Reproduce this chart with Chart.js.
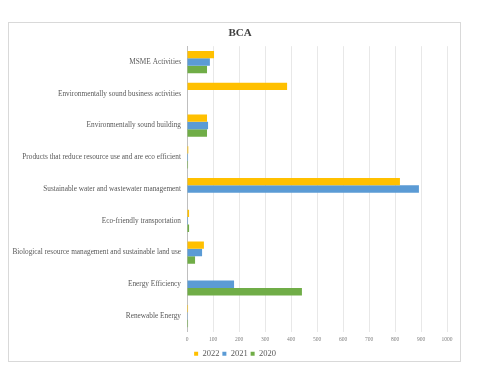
<!DOCTYPE html>
<html><head><meta charset="utf-8">
<script src="https://cdn.jsdelivr.net/npm/chart.js@4/dist/chart.umd.min.js"></script>
<style>html,body{margin:0;padding:0;background:#fff}#wrap{width:480px;height:371px;position:relative}</style>
</head><body><div id="wrap"><canvas id="c" width="480" height="371"></canvas></div>
<script>
const categories = [
  "MSME Activities",
  "Environmentally sound business activities",
  "Environmentally sound building",
  "Products that reduce resource use and are eco efficient",
  "Sustainable water and wastewater management",
  "Eco-friendly transportation",
  "Biological resource management and sustainable land use",
  "Energy Efficiency",
  "Renewable Energy"
];
const values2022 = [104, 385, 77, 5, 819, 8, 65, 0, 4];
const values2021 = [88, 0, 81, 4, 892, 4, 58, 181, 3];
const values2020 = [77, 0, 77, 4, 2, 8, 31, 442, 4];
const xTicks = [0,100,200,300,400,500,600,700,800,900,1000];

const frame = {
  id:'frame',
  beforeDraw(chart){
    const ctx = chart.ctx;
    ctx.save();
    ctx.fillStyle='#fff';
    ctx.fillRect(0,0,chart.width,chart.height);
    ctx.strokeStyle='#d9d9d9';
    ctx.lineWidth=1;
    ctx.strokeRect(8.5,22.5,452,339);
    ctx.restore();
    // center title and legend over the whole frame, like the original
    if (chart.titleBlock){ chart.titleBlock.left = 8; chart.titleBlock.right = 472; }
    if (chart.legend){ chart.legend.left = 8; chart.legend.right = 462; }
  }
};

const serif = "'Liberation Serif','Times New Roman',serif";
new Chart(document.getElementById('c'), {
  type:'bar',
  data:{
    labels:categories,
    datasets:[
      {label:'2022', data:values2022, backgroundColor:'#FFC000'},
      {label:'2021', data:values2021, backgroundColor:'#5B9BD5'},
      {label:'2020', data:values2020, backgroundColor:'#70AD47'}
    ]
  },
  options:{
    indexAxis:'y',
    responsive:false,
    animation:false,
    devicePixelRatio:1,
    datasets:{bar:{categoryPercentage:0.7, barPercentage:1}},
    layout:{padding:{left:10,right:33,top:22,bottom:3}},
    plugins:{
      title:{display:true,text:'BCA',color:'#404040',font:{family:serif,size:11,weight:'bold'},padding:{top:5,bottom:6}},
      legend:{position:'bottom',labels:{boxWidth:4,boxHeight:4,padding:3,color:'#595959',font:{family:serif,size:8.5}}},
      tooltip:{enabled:false}
    },
    scales:{
      x:{
        min:0,max:1000,
        afterBuildTicks(s){ s.ticks = xTicks.map(v=>({value:v})); },
        grid:{color:'#e8e8e8',drawTicks:false},
        border:{display:false},
        ticks:{color:'#7f7f7f',font:{family:serif,size:5.5},padding:4,callback:(v)=>String(v)}
      },
      y:{
        afterFit(s){ s.width = 177; },
        grid:{display:false,drawTicks:false},
        border:{color:'#bfbfbf'},
        ticks:{color:'#595959',font:{family:serif,size:7.3},padding:6,autoSkip:false}
      }
    }
  },
  plugins:[frame]
});
</script></body></html>
